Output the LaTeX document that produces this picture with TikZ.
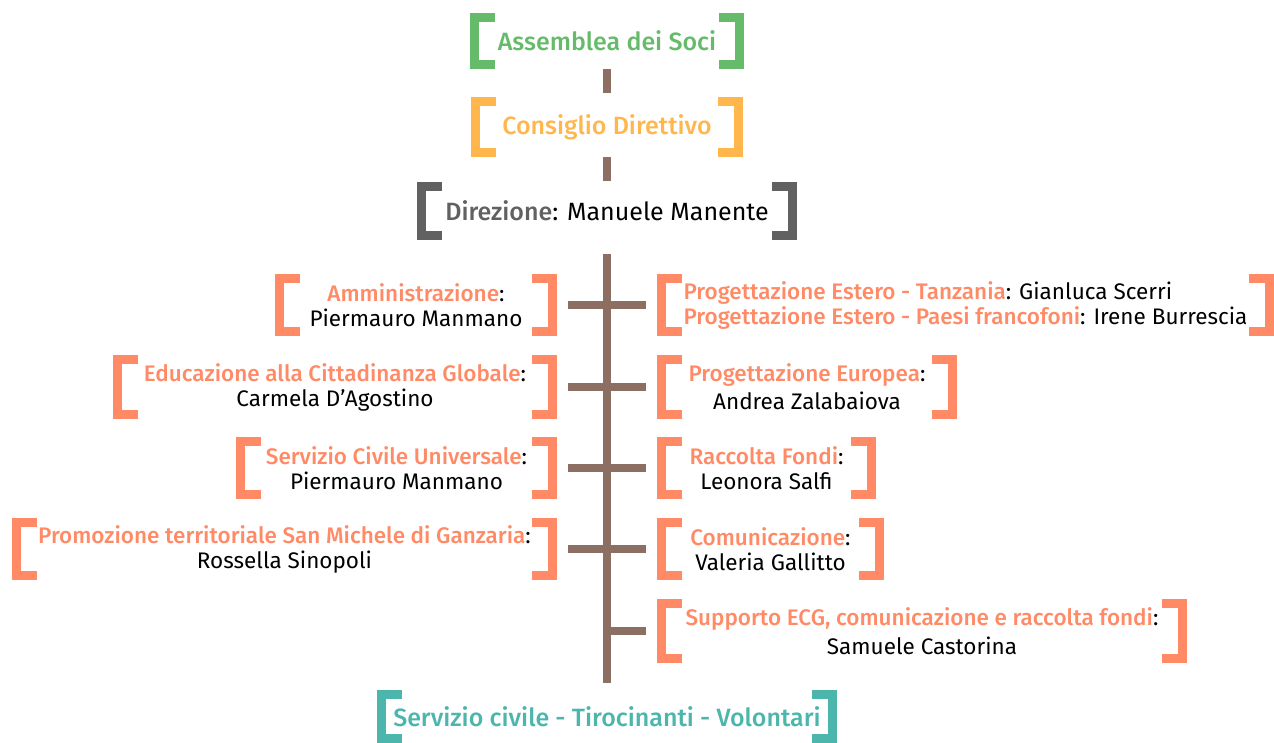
\documentclass[tikz,border=0pt]{standalone}
\usepackage{fontspec}
\setmainfont{Fira Sans}
\newfontfamily\medium{Fira Sans Medium}
\usepackage{xcolor}
\usepackage{tikz}

\definecolor{soci}{HTML}{66BB6A}
\definecolor{consiglio}{HTML}{FFB74D}
\definecolor{direzione}{HTML}{616161}
\definecolor{area}{HTML}{FF8A65}
\definecolor{trunk}{HTML}{8D6E63}
\definecolor{volontari}{HTML}{4DB6AC}

\newcommand{\lbl}[1]{{\medium\color{area}#1}}
\newcommand{\brackets}[2]{%
  \draw[#2, line width=9] ([shift={(25,4.5)}]#1.north west) -- ([shift={(4.5,4.5)}]#1.north west)
    -- ([shift={(4.5,-4.5)}]#1.south west) -- ([shift={(25,-4.5)}]#1.south west);
  \draw[#2, line width=9] ([shift={(-25,4.5)}]#1.north east) -- ([shift={(-4.5,4.5)}]#1.north east)
    -- ([shift={(-4.5,-4.5)}]#1.south east) -- ([shift={(-25,-4.5)}]#1.south east);
}

\tikzset{
  title/.style={inner sep=0pt, align=center, font=\fontsize{25}{29}\selectfont},
  box/.style={inner sep=0pt, align=center, font=\fontsize{22.5}{25}\selectfont},
  link/.style={draw=trunk, line width=8}
}

\begin{document}
\begin{tikzpicture}[x=1pt, y=-1pt]
            \useasboundingbox (0,0) rectangle (1274,743);

            \node[title, text=soci, minimum width=273, minimum height=56] (asm) at (607,41) {{\medium Assemblea dei Soci}};
            \node[title, text=consiglio, minimum width=272, minimum height=59] (con) at (607,127) {{\medium Consiglio Direttivo}};
            \node[title, minimum width=379, minimum height=57] (dir) at (607,211) {{\medium\color{direzione}Direzione}: Manuele Manente};
            \node[title, text=volontari, minimum width=460, minimum height=53] (vol) at (607,716.5) {{\medium Servizio civile - Tirocinanti - Volontari}};

            \node[box, minimum width=282, minimum height=62] (amm) at (416,305) {\lbl{Amministrazione}:\\Piermauro Manmano};
            \node[box, minimum width=444, minimum height=63] (edu) at (335,387) {\lbl{Educazione alla Cittadinanza Globale}:\\Carmela D’Agostino};
            \node[box, minimum width=321, minimum height=62] (scu) at (396.5,468) {\lbl{Servizio Civile Universale}:\\Piermauro Manmano};
            \node[box, minimum width=545, minimum height=62] (pro) at (284.5,549) {\lbl{Promozione territoriale San Michele di Ganzaria}:\\Rossella Sinopoli};

            \node[box, align=left, minimum width=617, minimum height=62] (est) at (965.5,305) {\lbl{Progettazione Estero - Tanzania}: Gianluca Scerri\\\lbl{Progettazione Estero - Paesi francofoni}: Irene Burrescia};
            \node[box, minimum width=300, minimum height=63] (eur) at (807,387) {\lbl{Progettazione Europea}:\\[3pt]Andrea Zalabaiova};
            \node[box, minimum width=219, minimum height=62] (fon) at (766.5,468) {\lbl{Raccolta Fondi}:\\Leonora Salfi};
            \node[box, minimum width=227, minimum height=62] (com) at (770.5,549) {\lbl{Comunicazione}:\\Valeria Gallitto};
            \node[box, minimum width=530, minimum height=63] (sup) at (922,631) {\lbl{Supporto ECG, comunicazione e raccolta fondi}:\\[4pt]Samuele Castorina};

            \brackets{asm}{soci}
            \brackets{con}{consiglio}
            \brackets{dir}{direzione}
            \brackets{vol}{volontari}
            \foreach \n in {amm, edu, scu, pro, est, eur, fon, com, sup}
                \brackets{\n}{area};

            \coordinate (s) at (dir.south |- sup.west);

            \draw[link, shorten >=4] (asm) -- (con);
            \draw[link, shorten >=1] (con) -- (dir);
            \draw[link, shorten <=14, shorten >=7] (dir) -- (vol);
            \draw[link, shorten <=11, shorten >=11] (amm) -- (est);
            \draw[link, shorten <=11, shorten >=11] (edu) -- (eur);
            \draw[link, shorten <=11, shorten >=11] (scu) -- (fon);
            \draw[link, shorten <=11, shorten >=11] (pro) -- (com);
            \draw[link, shorten >=11] (s) -- (sup);
        \end{tikzpicture}
\end{document}
